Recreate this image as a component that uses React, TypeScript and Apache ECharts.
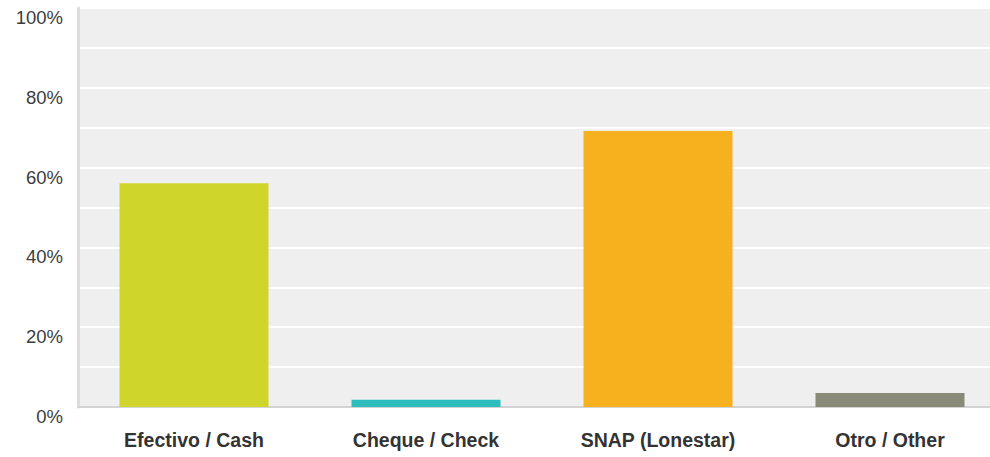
import React, { useEffect, useRef } from "react";
import * as echarts from "echarts";

const categories = ["Efectivo / Cash", "Cheque / Check", "SNAP (Lonestar)", "Otro / Other"];
const values = [56.1, 1.8, 69.2, 3.5];
const colors = ["#cfd52a", "#2ebdbd", "#f7b11e", "#8a8a78"];
const yTicks = [0, 20, 40, 60, 80, 100];

export default function App() {
  const ref = useRef<HTMLDivElement>(null);
  useEffect(() => {
    if (!ref.current) return;
    const chart = echarts.init(ref.current, null, { renderer: "svg" });
    chart.setOption({
      animation: false,
      grid: {
        left: 78,
        top: 8,
        right: 0,
        height: 399,
        show: true,
        backgroundColor: "#efefef",
        borderWidth: 0,
      },
      xAxis: {
        type: "category",
        data: categories,
        axisTick: { show: false },
        axisLine: { show: true, lineStyle: { color: "#d3d3d3", width: 2 } },
        axisLabel: {
          margin: 23,
          fontFamily: "Liberation Sans, Arial, sans-serif",
          fontSize: 19.5,
          fontWeight: "bold",
          color: "#333",
        },
      },
      yAxis: {
        type: "value",
        min: 0,
        max: 100,
        interval: 10,
        axisLine: { show: true, lineStyle: { color: "#dcdcdc", width: 3 } },
        axisTick: { show: false },
        splitLine: { show: true, lineStyle: { color: "#ffffff", width: 2 } },
        axisLabel: {
          margin: 15,
          verticalAlign: "top",
          fontFamily: "Liberation Sans, Arial, sans-serif",
          fontSize: 18.5,
          color: "#3c3c3c",
          formatter: (v: number) => (yTicks.includes(v) ? v + "%" : ""),
        },
      },
      series: [
        {
          type: "bar",
          barWidth: 149,
          data: values.map((v, i) => ({ value: v, itemStyle: { color: colors[i] } })),
        },
      ],
    });
    return () => chart.dispose();
  }, []);
  return (
    <div
      style={{ position: "absolute", left: 0, top: 0, width: 990, height: 457, overflow: "hidden" }}
    >
      <div ref={ref} style={{ width: 1006, height: 457 }} />
    </div>
  );
}
